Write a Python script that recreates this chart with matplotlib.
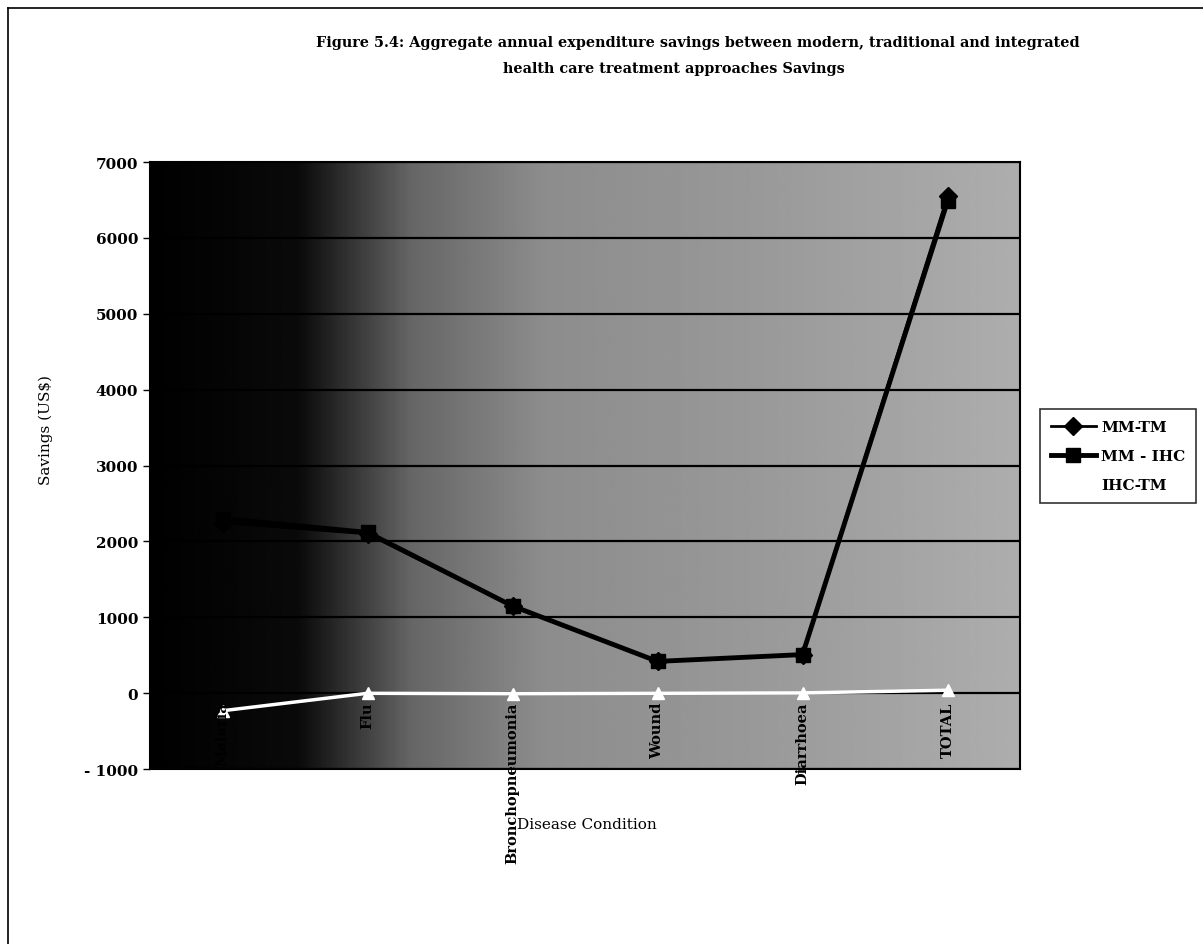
import numpy as np
import matplotlib
matplotlib.use('Agg')
import matplotlib.pyplot as plt
from matplotlib.lines import Line2D

# values
diseases = ['Malaria', 'Flu', 'Bronchopneumonia', 'Wound', 'Diarrhoea', 'TOTAL']
mm_tm = [2250, 2100, 1150, 420, 510, 6550]
mm_ihc = [2300, 2120, 1150, 420, 510, 6480]
ihc_tm = [-230, 0, -5, 0, 5, 40]
y_ticks = [-1000, 0, 1000, 2000, 3000, 4000, 5000, 6000, 7000]

plt.rcParams['font.family'] = ['DejaVu Serif']
plt.rcParams['axes.unicode_minus'] = False

fig = plt.figure(figsize=(12.03, 9.45), dpi=100)
ax = fig.add_axes([0.1247, 0.185, 0.7232, 0.6425])

# shaded plot area: black on the left fading to grey
xs = np.linspace(0, 1, 400)
shade = np.interp(xs, [0, 0.17, 0.3, 0.45, 0.7, 1.0], [0.0, 0.04, 0.4, 0.55, 0.6, 0.68])
ax.imshow(shade[np.newaxis, :], cmap='gray', vmin=0, vmax=1, aspect='auto',
          extent=[0, 1, 0, 1], transform=ax.transAxes, zorder=0)

x = np.arange(len(diseases))
ax.plot(x, ihc_tm, color='white', lw=2.5, marker='^', ms=8, mfc='white', mec='white', zorder=3, label='IHC-TM')
ax.plot(x, mm_tm, color='black', lw=2, marker='D', ms=9, zorder=4, label='MM-TM')
ax.plot(x, mm_ihc, color='black', lw=3.5, marker='s', ms=10, zorder=5, label='MM - IHC')

ax.set_xlim(-0.5, len(diseases) - 0.5)
ax.set_ylim(-1000, 7000)
ax.set_yticks(y_ticks)
ax.set_yticklabels(['- 1000' if v < 0 else str(v) for v in y_ticks])
ax.yaxis.grid(True, color='black', lw=1.6, zorder=2)
ax.set_axisbelow(False)
ax.set_xticks([])
for lbl in ax.get_yticklabels():
    lbl.set_fontweight('bold')
ax.tick_params(axis='y', labelsize=11, length=5, width=1)
for s in ax.spines.values():
    s.set_linewidth(1.5)
    s.set_zorder(6)

# category labels hang below the zero line (Excel style)
for xi, name in zip(x, diseases):
    ax.text(xi, -110, name, rotation=90, ha='center', va='top', fontsize=10.5,
            fontweight='bold', zorder=7, clip_on=False)

ax.set_ylabel('Savings (US$)', fontsize=11)
ax.yaxis.set_label_coords(-0.112, 0.56)
fig.text(0.488, 0.127, 'Disease Condition', ha='center', va='center', fontsize=11)

fig.text(0.58, 0.955, 'Figure 5.4: Aggregate annual expenditure savings between modern, traditional and integrated',
         ha='center', va='center', fontsize=10.4, fontweight='bold')
fig.text(0.56, 0.927, 'health care treatment approaches Savings',
         ha='center', va='center', fontsize=10.4, fontweight='bold')

handles, labels = ax.get_legend_handles_labels()
order = [1, 2, 0]
leg = fig.legend([handles[i] for i in order], [labels[i] for i in order],
                 loc='upper left', bbox_to_anchor=(0.858, 0.574), fontsize=11,
                 frameon=True, fancybox=False, edgecolor='black', handlelength=3.0,
                 borderpad=0.7, labelspacing=1.0, handletextpad=0.3)
leg.get_frame().set_linewidth(1.2)
for t in leg.get_texts():
    t.set_fontweight('bold')

# outer frame of the chart
fig.add_artist(Line2D([0.007, 1.0], [0.991, 0.991], color='black', lw=1.2))
fig.add_artist(Line2D([0.007, 0.007], [0.0, 0.991], color='black', lw=1.2))

fig.savefig('out.png', dpi=100)
